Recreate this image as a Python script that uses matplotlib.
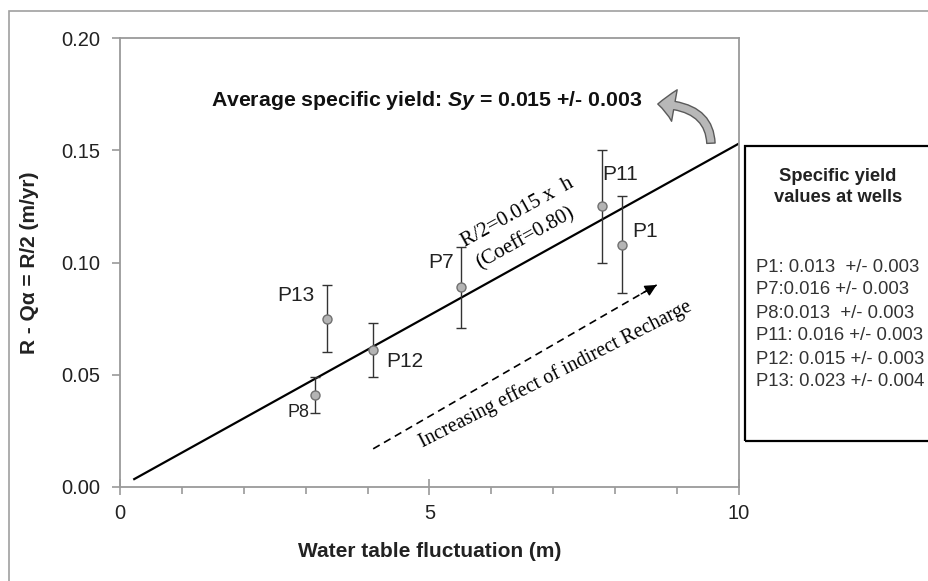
import matplotlib

matplotlib.use("Agg")
import matplotlib.pyplot as plt
import numpy as np
from matplotlib.patches import FancyArrowPatch, Rectangle
from matplotlib.ticker import FormatStrFormatter

plt.rcParams["font.family"] = ["Liberation Sans", "DejaVu Sans"]
plt.rcParams["mathtext.fontset"] = "custom"
plt.rcParams["mathtext.bfit"] = "Liberation Sans:italic:bold"
plt.rcParams["mathtext.bf"] = "Liberation Sans:bold"

# wells, water table fluctuation (m), R/2 (m/yr) and its uncertainty
wells = ["P8", "P13", "P12", "P7", "P11", "P1"]
fluct = [3.15, 3.35, 4.09, 5.51, 7.79, 8.11]
recharge = [0.041, 0.075, 0.061, 0.089, 0.125, 0.108]
recharge_err = [0.008, 0.015, 0.012, 0.018, 0.025, 0.0215]

# regression R/2 = 0.015 x h
fit_x = [0.23, 10.0]
fit_slope = 0.0153

# indirect recharge trend arrow (start, end) in data units
trend_x = [4.09, 8.67]
trend_y = [0.017, 0.090]

sy_values = [
    "P1: 0.013  +/- 0.003",
    "P7:0.016 +/- 0.003",
    "P8:0.013  +/- 0.003",
    "P11: 0.016 +/- 0.003",
    "P12: 0.015 +/- 0.003",
    "P13: 0.023 +/- 0.004",
]

# label centres (data units) and font size for each well
label_pos = {
    "P8": (2.88, 0.033, 13),
    "P13": (2.84, 0.0855, 15),
    "P12": (4.60, 0.0561, 15),
    "P7": (5.19, 0.0998, 15),
    "P11": (8.08, 0.139, 15),
    "P1": (8.48, 0.1136, 15),
}

W, H = 929, 581
fig = plt.figure(figsize=(W / 100, H / 100), dpi=100)


def fx(px):
    return px / W


def fy(py):
    return 1 - py / H


ax = fig.add_axes([fx(120), fy(487), fx(739) - fx(120), fy(38) - fy(487)])

# outer frame of the original figure
fig.patches.append(Rectangle((fx(9), fy(600)), fx(940) - fx(9), fy(11) - fy(600),
                             transform=fig.transFigure, fill=False,
                             ec="#a0a0a0", lw=1.2, zorder=0))

xs = np.array(fit_x)
ax.plot(xs, fit_slope * xs, color="black", lw=1.6, zorder=2)

ax.errorbar(fluct, recharge, yerr=recharge_err, fmt="o", ms=6.5,
            mfc="#b4b4b4", mec="#707070", mew=1.0, ecolor="#333333",
            elinewidth=1.0, capsize=3.5, capthick=1.0, zorder=3)

for w in wells:
    lx, ly, fs = label_pos[w]
    ax.text(lx, ly, w, fontsize=fs, ha="center", va="center", color="#222222")

# dashed trend arrow
ax.plot(trend_x, trend_y, color="black", lw=1.2, ls=(0, (4.5, 3)), zorder=2)
ax.annotate("", xy=(trend_x[1], trend_y[1]),
            xytext=(trend_x[1] - 0.25, trend_y[1] - 0.004),
            arrowprops=dict(arrowstyle="-|>,head_length=0.7,head_width=0.35",
                            color="black", lw=1.0, shrinkA=0, shrinkB=0))

serif = ["Liberation Serif", "DejaVu Serif"]
ax.text(7.04, 0.0503, "Increasing effect of indirect Recharge", family=serif,
        fontsize=14.5, rotation=27, rotation_mode="anchor", ha="center",
        va="center", color="black")
ax.text(6.42, 0.1222, "R/2=0.015 x  h", family=serif, fontsize=15,
        rotation=29, rotation_mode="anchor", ha="center", va="center")
ax.text(6.55, 0.1107, "(Coeff=0.80)", family=serif, fontsize=15,
        rotation=29, rotation_mode="anchor", ha="center", va="center")

ax.set_xlim(0, 10)
ax.set_ylim(0, 0.20)
ax.set_xticks([0, 5, 10])
ax.set_xticks(np.arange(0, 11, 1), minor=True)
ax.set_yticks(np.arange(0, 0.201, 0.05))
ax.yaxis.set_major_formatter(FormatStrFormatter("%.2f"))
for s in ax.spines.values():
    s.set_color("#9a9a9a")
    s.set_linewidth(1.3)
ax.tick_params(axis="x", which="major", direction="inout", length=12,
               width=1.2, color="#9a9a9a", labelsize=14.5, pad=6,
               labelcolor="#222222")
ax.tick_params(axis="x", which="minor", direction="out", length=5,
               width=1.2, color="#9a9a9a")
ax.tick_params(axis="y", which="major", direction="out", length=6,
               width=1.2, color="#9a9a9a", labelsize=14.5, pad=8,
               labelcolor="#222222")

ax.set_xlabel("Water table fluctuation (m)", fontsize=15, fontweight="bold",
              color="#222222", labelpad=14)
ax.set_ylabel("R - Q\u03b1 = R/2 (m/yr)", fontsize=15, fontweight="bold",
              color="#222222", labelpad=16)

fig.text(fx(211), fy(101),
         r"Average specific yield: $\mathbfit{Sy}$ = 0.015 +/- 0.003",
         fontsize=15.3, fontweight="bold", ha="left", va="center",
         color="#111111")

# curved grey pointer arrow
fig.patches.append(FancyArrowPatch(
    (fx(711), fy(146)), (fx(655), fy(104)), transform=fig.transFigure,
    connectionstyle="angle3,angleA=90,angleB=0",
    arrowstyle="simple,head_length=12,head_width=23,tail_width=6",
    mutation_scale=1, fc="#b8b8b8", ec="#5a5a5a", lw=1.0, zorder=5))

# well-value box
fig.patches.append(Rectangle((fx(745), fy(441)), fx(940) - fx(745),
                             fy(146) - fy(441), transform=fig.transFigure,
                             fill=False, ec="black", lw=1.6))
fig.text(fx(838), fy(187), "Specific yield\nvalues at wells", fontsize=13.2,
         fontweight="bold", ha="center", va="center", color="#222222",
         linespacing=1.3)
for i, s in enumerate(sy_values):
    fig.text(fx(756), fy(267 + 23 * i), s, fontsize=13.3, ha="left",
             va="center", color="#333333")

fig.savefig("out.png", dpi=100)
